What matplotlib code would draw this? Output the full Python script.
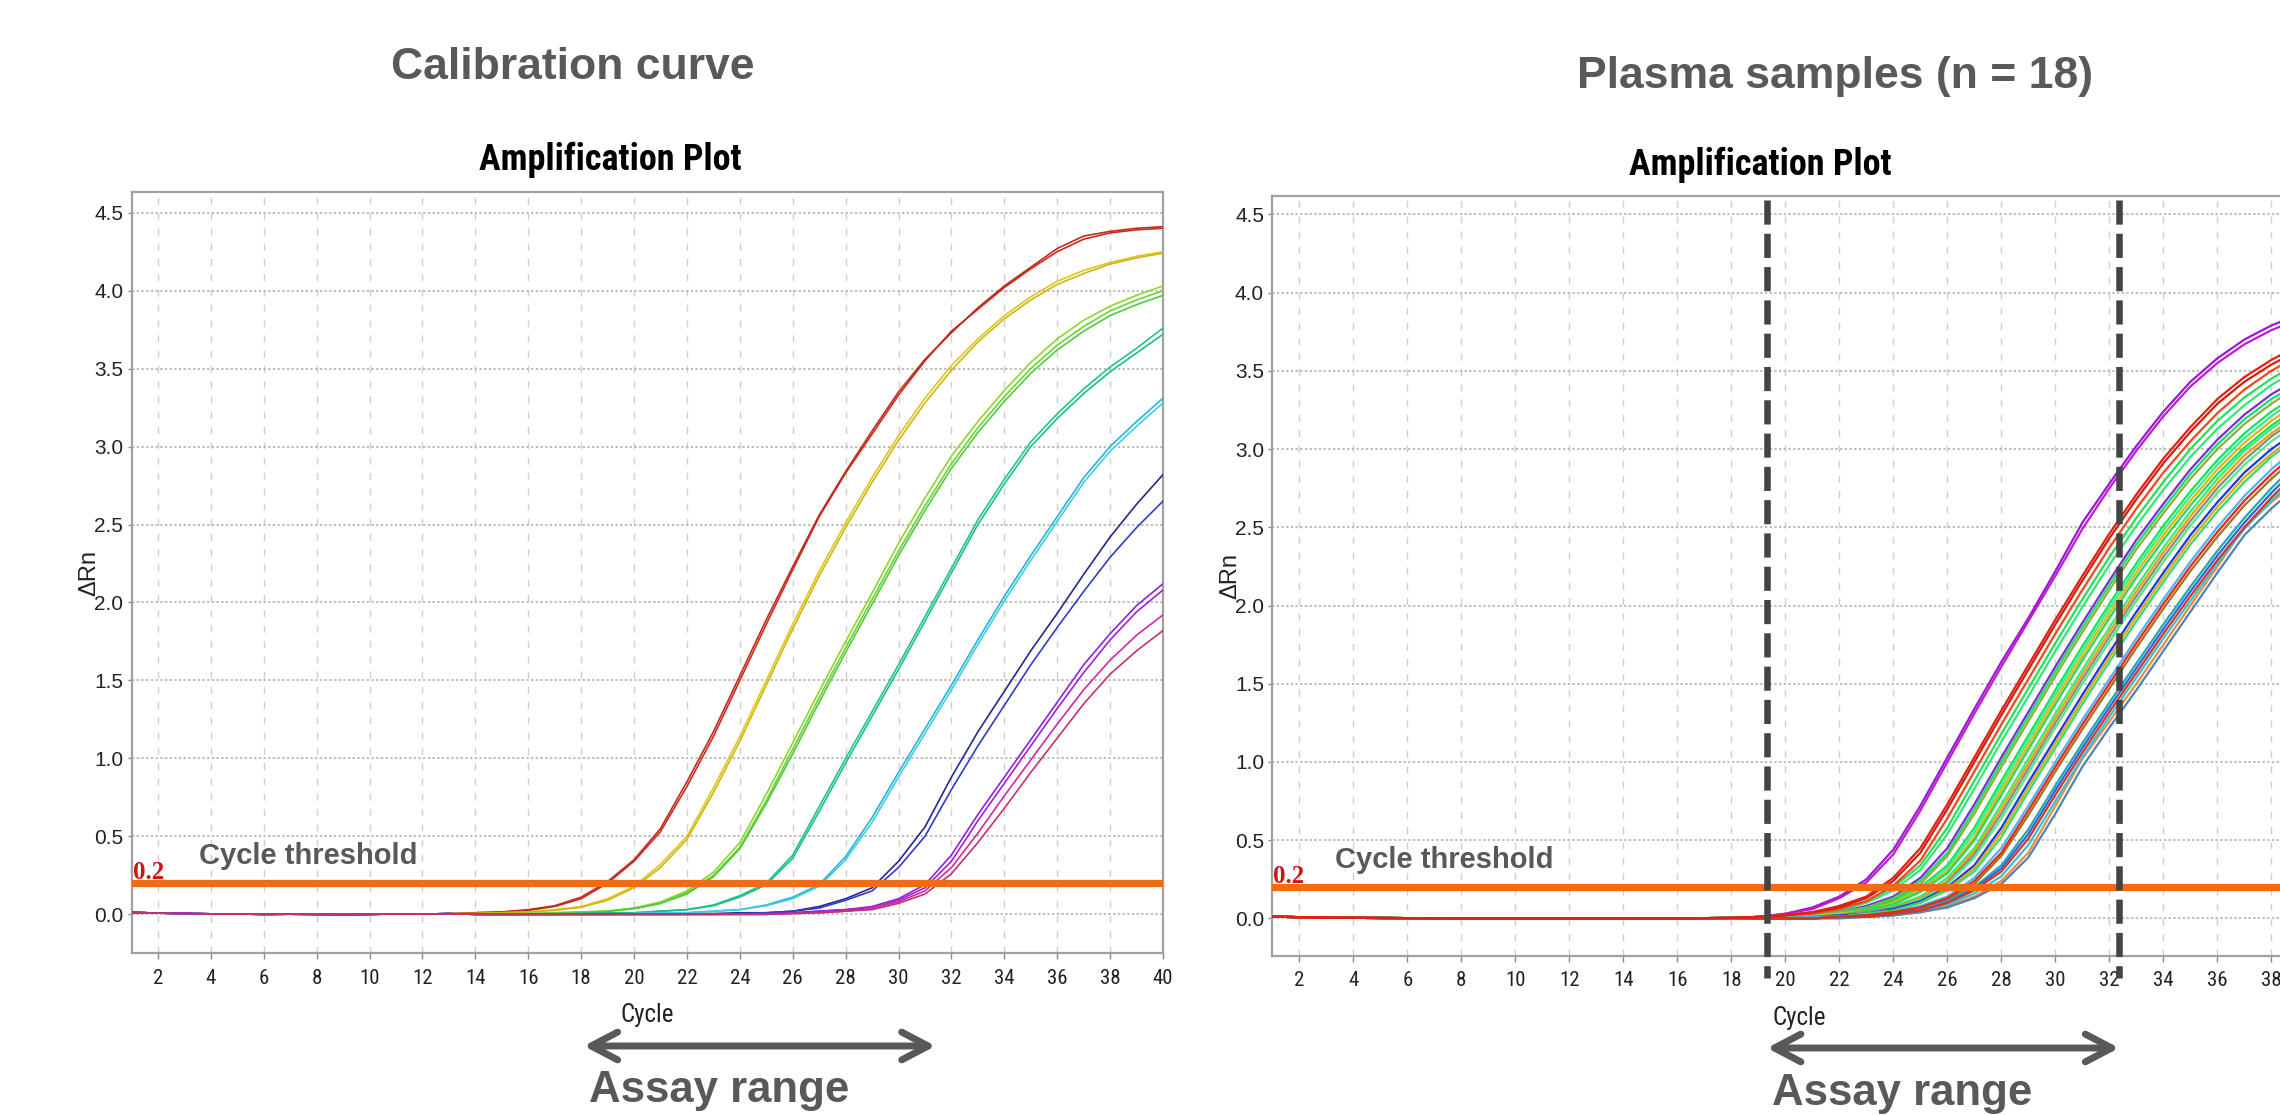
import os
import numpy as np
import matplotlib
matplotlib.use("Agg")
import matplotlib.pyplot as plt
from matplotlib import font_manager

# ---------------- data ----------------
threshold = 0.2
x_ticks = list(range(2, 41, 2))
y_ticks = [0.0, 0.5, 1.0, 1.5, 2.0, 2.5, 3.0, 3.5, 4.0, 4.5]

# Calibration curve: baseline cycles 1..13, then each curve cycles 14..40
left_baseline = [0.012, 0.008, 0.005, 0.003, 0.002, 0.0, 0.001, 0.0, -0.002, 0.0, 0.002, 0.002, 0.004]
left_red_a = [0.01, 0.015, 0.025, 0.05, 0.10, 0.20, 0.34, 0.53, 0.82, 1.14, 1.50, 1.86, 2.21, 2.55, 2.83, 3.08, 3.33, 3.55, 3.74, 3.88, 4.02, 4.14, 4.25, 4.33, 4.37, 4.39, 4.40]
left_red_b = [0.01, 0.015, 0.03, 0.055, 0.11, 0.21, 0.35, 0.55, 0.85, 1.17, 1.53, 1.89, 2.23, 2.56, 2.84, 3.10, 3.35, 3.56, 3.73, 3.89, 4.03, 4.15, 4.27, 4.35, 4.38, 4.40, 4.41]
left_yellow_a = [0.005, 0.01, 0.015, 0.03, 0.05, 0.10, 0.18, 0.32, 0.50, 0.81, 1.14, 1.50, 1.86, 2.20, 2.51, 2.80, 3.07, 3.31, 3.52, 3.69, 3.84, 3.96, 4.06, 4.13, 4.18, 4.22, 4.25]
left_yellow_b = [0.005, 0.01, 0.015, 0.025, 0.045, 0.09, 0.17, 0.30, 0.48, 0.78, 1.11, 1.47, 1.83, 2.17, 2.48, 2.77, 3.04, 3.28, 3.49, 3.67, 3.82, 3.94, 4.04, 4.11, 4.17, 4.21, 4.24]
left_lgreen_a = [0.0, 0.0, 0.005, 0.01, 0.015, 0.02, 0.04, 0.08, 0.15, 0.27, 0.46, 0.77, 1.10, 1.43, 1.75, 2.06, 2.38, 2.67, 2.94, 3.16, 3.36, 3.54, 3.69, 3.81, 3.90, 3.97, 4.03]
left_lgreen_b = [0.0, 0.0, 0.005, 0.01, 0.015, 0.02, 0.04, 0.07, 0.14, 0.25, 0.43, 0.73, 1.06, 1.39, 1.71, 2.02, 2.33, 2.62, 2.89, 3.12, 3.32, 3.50, 3.65, 3.77, 3.87, 3.94, 4.00]
left_lgreen_c = [0.0, 0.0, 0.0, 0.005, 0.01, 0.02, 0.035, 0.07, 0.13, 0.24, 0.42, 0.71, 1.03, 1.36, 1.68, 1.99, 2.30, 2.59, 2.86, 3.09, 3.29, 3.47, 3.62, 3.74, 3.84, 3.91, 3.97]
left_green_a = [0.0, 0.0, 0.0, 0.0, 0.005, 0.01, 0.01, 0.02, 0.03, 0.06, 0.12, 0.20, 0.38, 0.69, 1.00, 1.30, 1.60, 1.91, 2.22, 2.53, 2.79, 3.03, 3.21, 3.37, 3.51, 3.63, 3.76]
left_green_b = [0.0, 0.0, 0.0, 0.0, 0.005, 0.01, 0.01, 0.02, 0.03, 0.055, 0.11, 0.19, 0.36, 0.66, 0.97, 1.27, 1.57, 1.88, 2.19, 2.50, 2.76, 3.00, 3.18, 3.34, 3.48, 3.60, 3.72]
left_cyan_a = [0.0, 0.0, 0.0, 0.0, 0.0, 0.0, 0.005, 0.01, 0.01, 0.02, 0.03, 0.06, 0.11, 0.19, 0.37, 0.62, 0.91, 1.19, 1.47, 1.76, 2.04, 2.30, 2.55, 2.80, 3.00, 3.16, 3.31]
left_cyan_b = [0.0, 0.0, 0.0, 0.0, 0.0, 0.0, 0.005, 0.01, 0.01, 0.02, 0.03, 0.055, 0.10, 0.18, 0.35, 0.59, 0.88, 1.16, 1.44, 1.73, 2.01, 2.27, 2.52, 2.77, 2.97, 3.13, 3.28]
left_navy_a = [0.0, 0.0, 0.0, 0.0, 0.0, 0.0, 0.0, 0.0, 0.0, 0.005, 0.01, 0.01, 0.02, 0.05, 0.10, 0.17, 0.34, 0.56, 0.88, 1.17, 1.43, 1.69, 1.93, 2.18, 2.42, 2.63, 2.82]
left_navy_b = [0.0, 0.0, 0.0, 0.0, 0.0, 0.0, 0.0, 0.0, 0.0, 0.0, 0.005, 0.01, 0.02, 0.04, 0.09, 0.15, 0.30, 0.50, 0.80, 1.08, 1.34, 1.60, 1.84, 2.07, 2.29, 2.48, 2.65]
left_purple_a = [0.0, 0.0, 0.0, 0.0, 0.0, 0.0, 0.0, 0.0, 0.0, 0.0, 0.0, 0.005, 0.01, 0.02, 0.03, 0.05, 0.10, 0.19, 0.38, 0.64, 0.88, 1.12, 1.36, 1.60, 1.80, 1.98, 2.12]
left_purple_b = [0.0, 0.0, 0.0, 0.0, 0.0, 0.0, 0.0, 0.0, 0.0, 0.0, 0.0, 0.0, 0.01, 0.02, 0.03, 0.04, 0.09, 0.17, 0.34, 0.60, 0.84, 1.08, 1.32, 1.55, 1.76, 1.94, 2.08]
left_magenta_c = [0.0, 0.0, 0.0, 0.0, 0.0, 0.0, 0.0, 0.0, 0.0, 0.0, 0.0, 0.0, 0.005, 0.01, 0.02, 0.04, 0.08, 0.15, 0.30, 0.52, 0.76, 0.99, 1.22, 1.44, 1.63, 1.79, 1.92]
left_magenta_d = [0.0, 0.0, 0.0, 0.0, 0.0, 0.0, 0.0, 0.0, 0.0, 0.0, 0.0, 0.0, 0.005, 0.01, 0.02, 0.03, 0.07, 0.13, 0.26, 0.46, 0.68, 0.91, 1.13, 1.35, 1.54, 1.69, 1.82]
left_assay = [18.1, 31.4]

# Plasma samples: baseline cycles 1..18, then each curve cycles 19..39
right_baseline = [0.012, 0.008, 0.005, 0.004, 0.003, 0.002, 0.001, 0.0, 0.0, 0.0, 0.0, 0.0, 0.0, 0.0, 0.0, 0.0, 0.002, 0.003]
r_p1 = [0.01, 0.03, 0.07, 0.14, 0.25, 0.44, 0.72, 1.03, 1.34, 1.64, 1.92, 2.22, 2.53, 2.78, 3.02, 3.24, 3.43, 3.58, 3.70, 3.79, 3.86]
r_p2 = [0.01, 0.03, 0.06, 0.13, 0.23, 0.41, 0.69, 1.00, 1.31, 1.61, 1.90, 2.19, 2.49, 2.75, 2.99, 3.21, 3.40, 3.55, 3.67, 3.76, 3.83]
r_r1 = [0.01, 0.02, 0.04, 0.08, 0.14, 0.26, 0.45, 0.73, 1.03, 1.33, 1.62, 1.91, 2.19, 2.46, 2.71, 2.94, 3.14, 3.32, 3.46, 3.57, 3.66]
r_r2 = [0.01, 0.02, 0.04, 0.07, 0.13, 0.24, 0.42, 0.70, 1.00, 1.30, 1.59, 1.88, 2.16, 2.43, 2.68, 2.91, 3.11, 3.29, 3.43, 3.54, 3.63]
r_r3 = [0.01, 0.02, 0.03, 0.06, 0.11, 0.21, 0.37, 0.64, 0.94, 1.24, 1.53, 1.82, 2.10, 2.37, 2.62, 2.85, 3.05, 3.23, 3.38, 3.50, 3.60]
r_c1 = [0.01, 0.02, 0.03, 0.06, 0.11, 0.20, 0.34, 0.58, 0.88, 1.18, 1.47, 1.76, 2.04, 2.31, 2.56, 2.79, 3.00, 3.18, 3.33, 3.45, 3.55]
r_c2 = [0.01, 0.01, 0.03, 0.05, 0.10, 0.18, 0.31, 0.54, 0.83, 1.13, 1.42, 1.71, 1.99, 2.26, 2.51, 2.74, 2.95, 3.13, 3.28, 3.41, 3.51]
r_d1 = [0.01, 0.01, 0.02, 0.04, 0.08, 0.14, 0.26, 0.45, 0.73, 1.03, 1.32, 1.61, 1.89, 2.16, 2.42, 2.65, 2.87, 3.06, 3.22, 3.35, 3.45]
r_d2 = [0.00, 0.01, 0.02, 0.04, 0.07, 0.13, 0.24, 0.42, 0.70, 1.00, 1.29, 1.58, 1.86, 2.13, 2.39, 2.62, 2.84, 3.03, 3.19, 3.32, 3.42]
r_d3 = [0.00, 0.01, 0.02, 0.04, 0.07, 0.12, 0.22, 0.40, 0.67, 0.97, 1.26, 1.55, 1.83, 2.10, 2.36, 2.59, 2.81, 3.00, 3.16, 3.29, 3.40]
r_e1 = [0.00, 0.01, 0.02, 0.03, 0.06, 0.11, 0.20, 0.34, 0.58, 0.88, 1.17, 1.46, 1.74, 2.01, 2.27, 2.51, 2.73, 2.93, 3.10, 3.24, 3.35]
r_e2 = [0.00, 0.01, 0.02, 0.03, 0.05, 0.10, 0.19, 0.32, 0.55, 0.85, 1.14, 1.43, 1.71, 1.98, 2.24, 2.48, 2.70, 2.90, 3.07, 3.21, 3.33]
r_e3 = [0.00, 0.01, 0.01, 0.03, 0.05, 0.10, 0.18, 0.30, 0.52, 0.82, 1.11, 1.40, 1.68, 1.95, 2.21, 2.45, 2.67, 2.87, 3.04, 3.18, 3.30]
r_e4 = [0.00, 0.01, 0.01, 0.02, 0.05, 0.09, 0.17, 0.29, 0.50, 0.79, 1.08, 1.37, 1.65, 1.92, 2.18, 2.42, 2.64, 2.84, 3.01, 3.15, 3.27]
r_f1 = [0.00, 0.01, 0.01, 0.02, 0.04, 0.08, 0.14, 0.26, 0.45, 0.73, 1.02, 1.31, 1.59, 1.86, 2.12, 2.37, 2.60, 2.81, 2.99, 3.13, 3.25]
r_f2 = [0.00, 0.00, 0.01, 0.02, 0.04, 0.07, 0.13, 0.24, 0.43, 0.70, 0.99, 1.28, 1.56, 1.83, 2.09, 2.34, 2.57, 2.78, 2.96, 3.10, 3.22]
r_f3 = [0.00, 0.00, 0.01, 0.02, 0.04, 0.07, 0.12, 0.23, 0.41, 0.67, 0.96, 1.25, 1.53, 1.80, 2.06, 2.31, 2.54, 2.75, 2.93, 3.08, 3.20]
r_f4 = [0.00, 0.00, 0.01, 0.02, 0.03, 0.06, 0.12, 0.22, 0.39, 0.64, 0.93, 1.22, 1.50, 1.77, 2.03, 2.28, 2.51, 2.72, 2.90, 3.05, 3.17]
r_g1 = [0.00, 0.00, 0.01, 0.02, 0.03, 0.06, 0.11, 0.20, 0.34, 0.58, 0.87, 1.15, 1.43, 1.70, 1.96, 2.21, 2.45, 2.66, 2.85, 3.00, 3.12]
r_g2 = [0.00, 0.00, 0.01, 0.01, 0.03, 0.05, 0.10, 0.19, 0.32, 0.55, 0.84, 1.12, 1.40, 1.67, 1.93, 2.18, 2.42, 2.63, 2.82, 2.97, 3.10]
r_g3 = [0.00, 0.00, 0.01, 0.01, 0.03, 0.05, 0.10, 0.18, 0.30, 0.52, 0.81, 1.09, 1.37, 1.64, 1.90, 2.15, 2.39, 2.60, 2.79, 2.95, 3.08]
r_h1 = [0.00, 0.00, 0.01, 0.01, 0.02, 0.04, 0.08, 0.14, 0.26, 0.45, 0.72, 1.00, 1.27, 1.53, 1.79, 2.04, 2.28, 2.50, 2.70, 2.87, 3.02]
r_h2 = [0.00, 0.00, 0.00, 0.01, 0.02, 0.04, 0.07, 0.13, 0.24, 0.42, 0.69, 0.97, 1.24, 1.50, 1.76, 2.01, 2.25, 2.47, 2.67, 2.84, 2.99]
r_h3 = [0.00, 0.00, 0.00, 0.01, 0.02, 0.04, 0.07, 0.12, 0.22, 0.40, 0.66, 0.94, 1.21, 1.47, 1.73, 1.98, 2.22, 2.44, 2.64, 2.81, 2.96]
r_i1 = [0.00, 0.00, 0.00, 0.01, 0.02, 0.03, 0.06, 0.11, 0.20, 0.34, 0.57, 0.85, 1.12, 1.38, 1.63, 1.88, 2.12, 2.35, 2.56, 2.75, 2.92]
r_i2 = [0.00, 0.00, 0.00, 0.01, 0.01, 0.03, 0.05, 0.10, 0.19, 0.32, 0.54, 0.82, 1.09, 1.35, 1.60, 1.85, 2.09, 2.32, 2.53, 2.72, 2.89]
r_i3 = [0.00, 0.00, 0.00, 0.01, 0.01, 0.03, 0.05, 0.10, 0.18, 0.30, 0.51, 0.79, 1.06, 1.32, 1.57, 1.82, 2.06, 2.29, 2.50, 2.69, 2.86]
r_j1 = [0.00, 0.00, 0.00, 0.01, 0.01, 0.02, 0.04, 0.08, 0.14, 0.24, 0.42, 0.72, 1.02, 1.26, 1.50, 1.75, 2.00, 2.25, 2.50, 2.66, 2.80]
r_j2 = [0.00, 0.00, 0.00, 0.01, 0.01, 0.02, 0.05, 0.09, 0.16, 0.27, 0.47, 0.75, 1.03, 1.29, 1.54, 1.79, 2.03, 2.27, 2.49, 2.67, 2.83]
r_j3 = [0.00, 0.00, 0.00, 0.00, 0.01, 0.02, 0.04, 0.07, 0.13, 0.22, 0.39, 0.67, 0.97, 1.22, 1.46, 1.71, 1.96, 2.21, 2.45, 2.62, 2.77]
right_assay = [19.32, 32.36]   # dashed limits of the assay range

# ---------------- fonts ----------------
def pick_font(names):
    for n in names:
        try:
            font_manager.findfont(font_manager.FontProperties(family=n), fallback_to_default=False)
            return n
        except Exception:
            pass
    return "DejaVu Sans"


def pick_condensed():
    for fam in ["Liberation Sans Narrow", "Arial Narrow", "Roboto Condensed", "Open Sans Condensed",
                "Noto Sans Condensed", "DejaVu Sans Condensed"]:
        try:
            font_manager.findfont(font_manager.FontProperties(family=fam), fallback_to_default=False)
            return fam, "normal"
        except Exception:
            pass
    for fam in ["DejaVu Sans", "Noto Sans", "Open Sans", "Roboto"]:
        try:
            p = font_manager.findfont(font_manager.FontProperties(family=fam, stretch="condensed",
                                                                  weight="bold"),
                                      fallback_to_default=False)
            if "ondensed" in os.path.basename(p) or "arrow" in os.path.basename(p):
                return fam, "condensed"
        except Exception:
            pass
    return None, None


SANS = pick_font(["Liberation Sans", "Arial", "DejaVu Sans"])
SERIF = pick_font(["Liberation Serif", "DejaVu Serif"])
COND, COND_STRETCH = pick_condensed()
if COND is None:
    NARROW, NSTRETCH, TICK_X_SIZE, AMP_SIZE, CYC_SIZE = SANS, "normal", 13, 22, 16
else:
    NARROW, NSTRETCH, TICK_X_SIZE, AMP_SIZE, CYC_SIZE = COND, COND_STRETCH, 15, 26, 18

GRAY = "#595959"
W, H = 2280.0, 1115.0

fig = plt.figure(figsize=(22.8, 11.15), dpi=100)
fig.patch.set_facecolor("white")

axL = fig.add_axes([131.5 / W, 1 - 953.3 / H, 1031.5 / W, 760.9 / H])
axR = fig.add_axes([1272.4 / W, 1 - 956.0 / H, 1053.0 / W, 760.4 / H])


def style(ax, ylim):
    ax.set_xlim(1, 40)
    ax.set_ylim(*ylim)
    ax.set_xticks(x_ticks)
    ax.set_xticklabels([str(v) for v in x_ticks], family=NARROW, stretch=NSTRETCH,
                       fontsize=TICK_X_SIZE, color="#222222")
    ax.set_yticks(y_ticks)
    ax.set_yticklabels([f"{v:.1f}" for v in y_ticks], family=SANS, fontsize=15, color="#222222")
    ax.tick_params(axis="x", length=4, width=1, color="#888888", pad=7)
    ax.tick_params(axis="y", length=3, width=1, color="#888888", pad=3)
    ax.set_axisbelow(True)
    ax.grid(axis="x", color="#cfcfcf", lw=1.0, ls=(0, (5, 6)))
    ax.grid(axis="y", color="#b8b8b8", lw=1.3, ls=(0, (1.3, 1.3)))
    for sp in ax.spines.values():
        sp.set_color("#a0a0a0")
        sp.set_linewidth(1.6)


style(axL, (-0.25, 4.63))
style(axR, (-0.24, 4.62))

# ---- left curves ----
left_cycles = np.arange(1, 41)
left_curves = [
    (left_red_a, "#d7261b"), (left_red_b, "#b9301e"),
    (left_yellow_a, "#e2c51c"), (left_yellow_b, "#cdb714"),
    (left_lgreen_a, "#8ed62a"), (left_lgreen_b, "#6bd23a"), (left_lgreen_c, "#4fcb3e"),
    (left_green_a, "#22c77a"), (left_green_b, "#1dbd8c"),
    (left_cyan_a, "#26b5d6"), (left_cyan_b, "#42cbe6"),
    (left_navy_a, "#27278c"), (left_navy_b, "#2d3fc6"),
    (left_purple_a, "#8a24d8"), (left_purple_b, "#a51fd4"),
    (left_magenta_c, "#cf2aa6"), (left_magenta_d, "#c2336b"),
]
for vals, col in left_curves:
    y = np.array(left_baseline + vals)
    axL.plot(left_cycles, y, color=col, lw=1.2, zorder=3)

# ---- right curves ----
right_cycles = np.arange(1, 40)
right_curves = [
    (r_p1, "#9b19d6"), (r_p2, "#c21bc9"),
    (r_c1, "#22e05a"), (r_c2, "#33e67a"),
    (r_d1, "#7b2cd9"), (r_d2, "#19e064"), (r_d3, "#8fae3a"),
    (r_e1, "#0fe65a"), (r_e2, "#45e890"), (r_e3, "#e8b400"), (r_e4, "#25d65f"),
    (r_f1, "#2ff26f"), (r_f2, "#f29c12"), (r_f3, "#8a8a8a"), (r_f4, "#52ea7c"),
    (r_g1, "#1838e8"), (r_g2, "#d9a90f"), (r_g3, "#38da6c"),
    (r_h1, "#4db2f2"), (r_h3, "#a3722a"),
    (r_i1, "#1fa9b3"), (r_i2, "#3363d4"),
    (r_j1, "#ea8c3d"), (r_j2, "#2fc3db"), (r_j3, "#5282b3"),
    (r_h2, "#e3291a"), (r_i3, "#d93322"),
    (r_r3, "#f2461c"), (r_r2, "#cf1f12"), (r_r1, "#e3200f"),
]
for vals, col in right_curves:
    y = np.array(right_baseline + vals)
    axR.plot(right_cycles, y, color=col, lw=1.6, zorder=3)

# ---- threshold, labels ----
for ax, tx in ((axL, 3.55), (axR, 3.31)):
    ax.axhline(threshold, color="#f26a12", lw=5.2, zorder=5)
    ax.text(1.04, 0.225, "0.2", color="#cc1414", family=SERIF, fontweight="bold",
            fontsize=18, ha="left", va="baseline", zorder=6)
    ax.text(tx, 0.32, "Cycle threshold", color=GRAY, family=SANS, fontweight="bold",
            fontsize=21, ha="left", va="baseline", zorder=6)

axL.text(-0.041, 0.5, "ΔRn", transform=axL.transAxes, rotation=90, ha="center", va="center",
         fontsize=17, family=SANS, color="#222222")
axR.text(-0.040, 0.5, "ΔRn", transform=axR.transAxes, rotation=90, ha="center", va="center",
         fontsize=17, family=SANS, color="#222222")
axL.text(0.5, -0.081, "Cycle", transform=axL.transAxes, ha="center", va="center",
         fontsize=CYC_SIZE, family=NARROW, stretch=NSTRETCH, color="#222222")
axR.text(0.5, -0.081, "Cycle", transform=axR.transAxes, ha="center", va="center",
         fontsize=CYC_SIZE, family=NARROW, stretch=NSTRETCH, color="#222222")

# ---- dashed assay limits (right panel) ----
for xv in right_assay:
    ln, = axR.plot([xv, xv], [4.59, -0.38], color="#444444", lw=4.7, zorder=7, clip_on=False)
    ln.set_dashes([3.7, 1.4])

# ---- assay range arrows ----
arrow_kw = dict(arrowstyle="<->,head_length=0.95,head_width=0.5", lw=5, color=GRAY,
                shrinkA=0, shrinkB=0, mutation_scale=20)
axL.annotate("", xy=(left_assay[1], 1 - 1046 / H), xytext=(left_assay[0], 1 - 1046 / H),
             xycoords=("data", "figure fraction"), textcoords=("data", "figure fraction"),
             arrowprops=arrow_kw, annotation_clip=False)
axR.annotate("", xy=(right_assay[1], 1 - 1048 / H), xytext=(right_assay[0], 1 - 1048 / H),
             xycoords=("data", "figure fraction"), textcoords=("data", "figure fraction"),
             arrowprops=arrow_kw, annotation_clip=False)
fig.text(589 / W, 1 - 1102 / H, "Assay range", ha="left", va="baseline", fontsize=31.5,
         fontweight="bold", color=GRAY, family=SANS)
fig.text(1771.6 / W, 1 - 1105 / H, "Assay range", ha="left", va="baseline", fontsize=31.5,
         fontweight="bold", color=GRAY, family=SANS)

# ---- titles ----
fig.text(573 / W, 1 - 79.3 / H, "Calibration curve", ha="center", va="baseline", fontsize=32,
         fontweight="bold", color=GRAY, family=SANS)
fig.text(1835 / W, 1 - 88.3 / H, "Plasma samples (n = 18)", ha="center", va="baseline", fontsize=32,
         fontweight="bold", color=GRAY, family=SANS)
fig.text(610 / W, 1 - 170 / H, "Amplification Plot", ha="center", va="baseline", fontsize=AMP_SIZE,
         fontweight="bold", color="black", family=NARROW, stretch=NSTRETCH)
fig.text(1760 / W, 1 - 175 / H, "Amplification Plot", ha="center", va="baseline", fontsize=AMP_SIZE,
         fontweight="bold", color="black", family=NARROW, stretch=NSTRETCH)

fig.savefig("out.png", dpi=100, facecolor="white")
